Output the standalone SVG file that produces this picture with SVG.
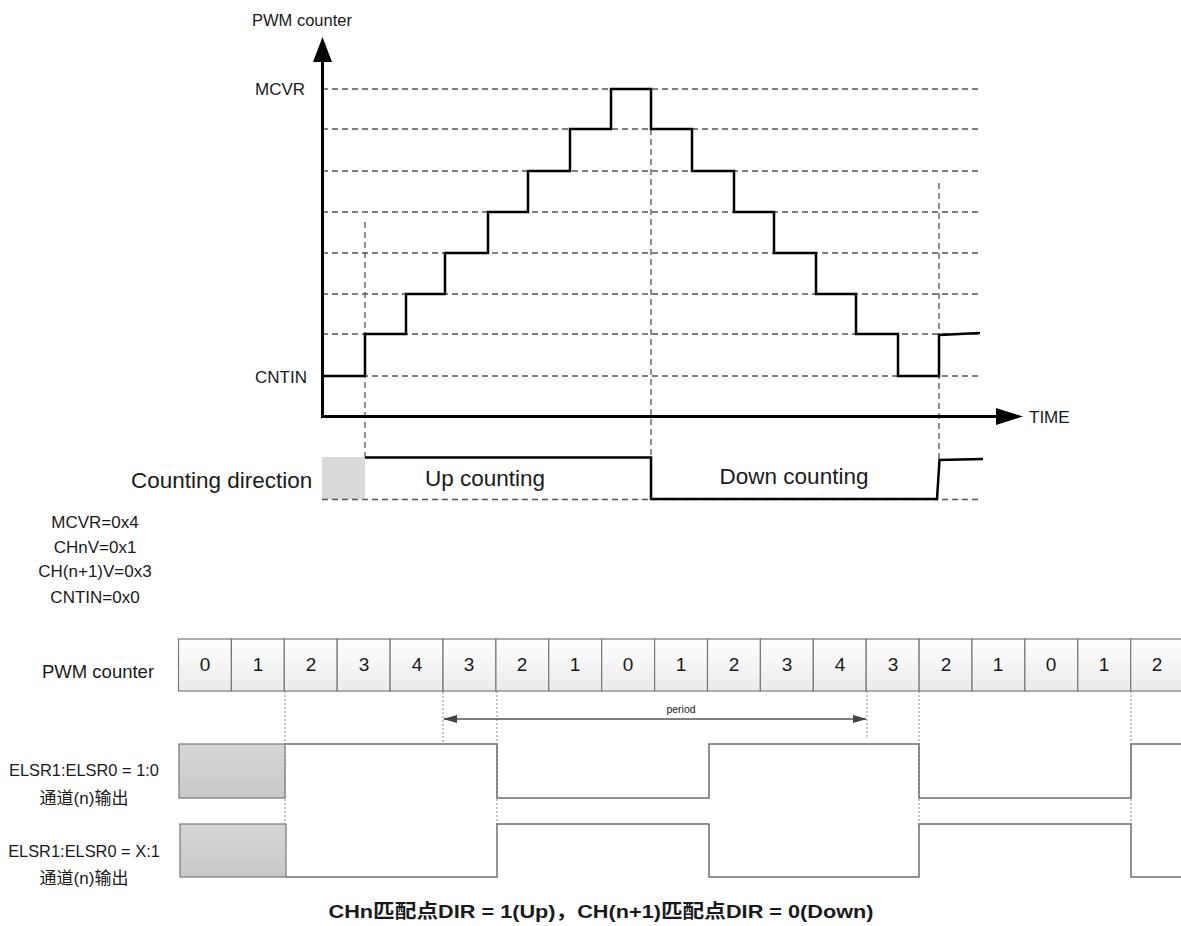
<svg xmlns="http://www.w3.org/2000/svg" width="1181" height="926" viewBox="0 0 1181 926">
  <style>
    .lbl { font-family: "Liberation Sans", Arial, sans-serif; fill: #1a1a1a; }
    .cal { font-family: "Liberation Sans", "Noto Sans CJK SC", sans-serif; fill: #1a1a1a; }
    .grid { stroke: #555; stroke-width: 1.5; stroke-dasharray: 6 4; fill: none; }
    .vguide { stroke: #555; stroke-width: 1.3; stroke-dasharray: 6 4; fill: none; }
    .axis { stroke: #000; stroke-width: 3; fill: none; }
    .sig { stroke: #000; stroke-width: 2.5; fill: none; stroke-linejoin: miter; }
    .cell { fill: url(#cellFill); stroke: #7a7a7a; stroke-width: 1.2; }
    .num { font-family: "Liberation Sans", Arial, sans-serif; font-size: 19px; fill: #1a1a1a; text-anchor: middle; }
    .wave { stroke: #6e6e6e; stroke-width: 1.5; fill: none; }
    .unk { fill: url(#unkFill); stroke: #777; stroke-width: 1.2; }
    .dot { stroke: #8a8a8a; stroke-width: 1; stroke-dasharray: 2 2; fill: none; }
  </style>
  <defs>
    <linearGradient id="cellFill" x1="0" y1="0" x2="0" y2="1">
      <stop offset="0" stop-color="#ffffff"/>
      <stop offset="1" stop-color="#ebebeb"/>
    </linearGradient>
    <linearGradient id="unkFill" x1="0" y1="0" x2="0" y2="1">
      <stop offset="0" stop-color="#d6d6d6"/>
      <stop offset="1" stop-color="#c9c9c9"/>
    </linearGradient>
    <marker id="arrowL" markerWidth="14" markerHeight="10" refX="1" refY="5" orient="auto" markerUnits="userSpaceOnUse">
      <path d="M0,5 L14,1 L14,9 Z" fill="#444"/>
    </marker>
    <marker id="arrowR" markerWidth="14" markerHeight="10" refX="13" refY="5" orient="auto" markerUnits="userSpaceOnUse">
      <path d="M14,5 L0,1 L0,9 Z" fill="#444"/>
    </marker>
  </defs>

  <rect width="1181" height="926" fill="#ffffff"/>

  <!-- counter waveform chart -->
  <g id="counter-chart">
    <g id="grid">
      <line class="grid" x1="322" y1="89" x2="980" y2="89"/>
      <line class="grid" x1="322" y1="129" x2="980" y2="129"/>
      <line class="grid" x1="322" y1="171" x2="980" y2="171"/>
      <line class="grid" x1="322" y1="212" x2="980" y2="212"/>
      <line class="grid" x1="322" y1="253" x2="980" y2="253"/>
      <line class="grid" x1="322" y1="294" x2="980" y2="294"/>
      <line class="grid" x1="322" y1="334" x2="980" y2="334"/>
      <line class="grid" x1="322" y1="376" x2="980" y2="376"/>
      <line class="vguide" x1="365" y1="222" x2="365" y2="459"/>
      <line class="vguide" x1="651" y1="129" x2="651" y2="500"/>
      <line class="vguide" x1="939" y1="183" x2="939" y2="462"/>
    </g>
    <g id="axes">
      <line class="axis" x1="322.5" y1="418" x2="322.5" y2="58"/>
      <polygon points="322.5,37 313,62 332,62" fill="#000"/>
      <line class="axis" x1="321" y1="416.5" x2="998" y2="416.5"/>
      <polygon points="996,408 1023,416.5 996,425" fill="#000"/>
      <text class="lbl" x="252" y="26" font-size="16.5">PWM counter</text>
      <text class="lbl" x="255" y="95" font-size="17">MCVR</text>
      <text class="lbl" x="255" y="383" font-size="17">CNTIN</text>
      <text class="lbl" x="1029" y="423" font-size="17">TIME</text>
    </g>
    <path id="counter-trace" class="sig" d="M322,376 H365 V334 H406 V294 H445 V253 H488 V212 H528 V171 H570 V129 H611 V89 H651 V129 H692 V171 H734 V212 H774 V253 H816 V294 H856 V334 H898 V376 H939 V335 L980,333"/>
  </g>

  <!-- counting direction strip -->
  <g id="counting-direction">
    <rect x="322" y="457" width="43" height="42" fill="#d9d9d9"/>
    <line class="grid" x1="322" y1="499.5" x2="980" y2="499.5"/>
    <path class="sig" d="M365,457.5 H651 V499 H937 L939.5,460 L983,459"/>
    <text class="lbl" x="131" y="488" font-size="22.5">Counting direction</text>
    <text class="lbl" x="485" y="486" font-size="22.5" text-anchor="middle">Up counting</text>
    <text class="lbl" x="794" y="484" font-size="22.5" text-anchor="middle">Down counting</text>
  </g>

  <!-- register settings -->
  <g id="settings">
    <text class="cal" x="95" y="528" font-size="17" text-anchor="middle">MCVR=0x4</text>
    <text class="cal" x="95" y="553" font-size="17" text-anchor="middle">CHnV=0x1</text>
    <text class="cal" x="95" y="577" font-size="17" text-anchor="middle">CH(n+1)V=0x3</text>
    <text class="cal" x="95" y="603" font-size="17" text-anchor="middle">CNTIN=0x0</text>
  </g>

  <!-- PWM counter value row -->
  <g id="pwm-counter-row">
    <text class="cal" x="42" y="678" font-size="18.5">PWM counter</text>
    <rect class="cell" x="178.5" y="639" width="52.9" height="52"/>
    <rect class="cell" x="231.4" y="639" width="52.9" height="52"/>
    <rect class="cell" x="284.3" y="639" width="52.9" height="52"/>
    <rect class="cell" x="337.2" y="639" width="52.9" height="52"/>
    <rect class="cell" x="390.1" y="639" width="52.9" height="52"/>
    <rect class="cell" x="443.0" y="639" width="52.9" height="52"/>
    <rect class="cell" x="495.9" y="639" width="52.9" height="52"/>
    <rect class="cell" x="548.8" y="639" width="52.9" height="52"/>
    <rect class="cell" x="601.7" y="639" width="52.9" height="52"/>
    <rect class="cell" x="654.6" y="639" width="52.9" height="52"/>
    <rect class="cell" x="707.5" y="639" width="52.9" height="52"/>
    <rect class="cell" x="760.4" y="639" width="52.9" height="52"/>
    <rect class="cell" x="813.3" y="639" width="52.9" height="52"/>
    <rect class="cell" x="866.2" y="639" width="52.9" height="52"/>
    <rect class="cell" x="919.1" y="639" width="52.9" height="52"/>
    <rect class="cell" x="972.0" y="639" width="52.9" height="52"/>
    <rect class="cell" x="1024.9" y="639" width="52.9" height="52"/>
    <rect class="cell" x="1077.8" y="639" width="52.9" height="52"/>
    <rect class="cell" x="1130.7" y="639" width="52.9" height="52"/>
    <text class="num" x="205" y="671">0</text>
    <text class="num" x="258" y="671">1</text>
    <text class="num" x="311" y="671">2</text>
    <text class="num" x="364" y="671">3</text>
    <text class="num" x="417" y="671">4</text>
    <text class="num" x="469" y="671">3</text>
    <text class="num" x="522" y="671">2</text>
    <text class="num" x="575" y="671">1</text>
    <text class="num" x="628" y="671">0</text>
    <text class="num" x="681" y="671">1</text>
    <text class="num" x="734" y="671">2</text>
    <text class="num" x="787" y="671">3</text>
    <text class="num" x="840" y="671">4</text>
    <text class="num" x="893" y="671">3</text>
    <text class="num" x="946" y="671">2</text>
    <text class="num" x="998" y="671">1</text>
    <text class="num" x="1051" y="671">0</text>
    <text class="num" x="1104" y="671">1</text>
    <text class="num" x="1157" y="671">2</text>
  </g>

  <!-- timing guides and period marker -->
  <g id="connectors">
    <line class="dot" x1="285" y1="691" x2="285" y2="824"/>
    <line class="dot" x1="443" y1="680" x2="443" y2="742"/>
    <line class="dot" x1="497" y1="691" x2="497" y2="824"/>
    <line class="dot" x1="867" y1="691" x2="867" y2="737"/>
    <line class="dot" x1="919" y1="691" x2="919" y2="824"/>
    <line class="dot" x1="1131" y1="691" x2="1131" y2="824"/>
    <line x1="444" y1="719" x2="866" y2="719" stroke="#555" stroke-width="1.3" marker-start="url(#arrowL)" marker-end="url(#arrowR)"/>
    <text class="lbl" x="681" y="713" font-size="10.5" text-anchor="middle" fill="#333">period</text>
  </g>

  <!-- channel output, ELSR1:ELSR0 = 1:0 -->
  <g id="output-high-true">
    <text class="cal" x="84" y="776" font-size="16.4" text-anchor="middle">ELSR1:ELSR0 = 1:0</text>
    <text class="cal" x="84" y="804" font-size="17" text-anchor="middle">通道(n)输出</text>
    <rect class="unk" x="179" y="744" width="106" height="54"/>
    <path class="wave" d="M285,744 H497 V798 H709 V744 H919 V798 H1131 V744 H1181"/>
  </g>

  <!-- channel output, ELSR1:ELSR0 = X:1 -->
  <g id="output-low-true">
    <text class="cal" x="84" y="857" font-size="16.4" text-anchor="middle">ELSR1:ELSR0 = X:1</text>
    <text class="cal" x="84" y="884" font-size="17" text-anchor="middle">通道(n)输出</text>
    <rect class="unk" x="180" y="824" width="106" height="53"/>
    <path class="wave" d="M286,877 H497 V824 H709 V877 H919 V824 H1131 V877 H1181"/>
  </g>

  <text id="caption" class="cal" x="601" y="918" font-size="19" font-weight="bold" text-anchor="middle" textLength="545" lengthAdjust="spacingAndGlyphs">CHn匹配点DIR = 1(Up)，CH(n+1)匹配点DIR = 0(Down)</text>
</svg>
